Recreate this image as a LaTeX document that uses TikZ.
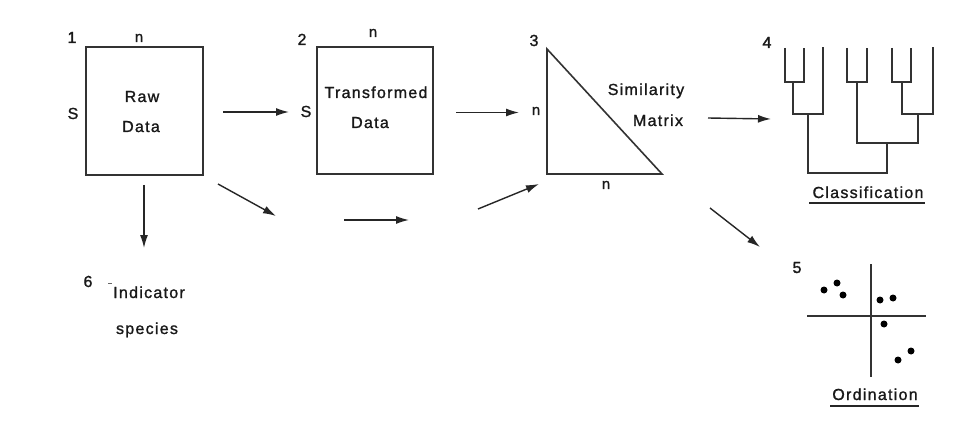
\documentclass[tikz,border=0pt]{standalone}
\usepackage{fontspec}
\setmainfont{Liberation Sans}[LetterSpace=8,FakeBold=1.2]
\newfontfamily\numfont{Liberation Sans}[FakeBold=2.5]
\usetikzlibrary{arrows.meta}
\begin{document}
\begin{tikzpicture}[x=1pt,y=-1pt,
  ln/.style={line width=1.6pt,draw=black!80},
  box/.style={ln,rectangle,inner sep=0pt},
  arr/.style={line width=1.4pt,draw=black!85,-{Latex[length=13pt,width=8pt]}},
  lbl/.style={inner sep=0pt,anchor=base,font=\fontsize{16}{18}\selectfont,text=black!90},
  num/.style={lbl,font=\fontsize{16}{18}\selectfont\numfont},
  dot/.style={circle,fill=black,inner sep=0pt,minimum size=7pt},
  uline/.style={line width=1.8pt,draw=black!85}]
\useasboundingbox (0,0) rectangle (970,425);
\fill[white] (0,0) rectangle (970,425);
% Box 1
\node[box,minimum width=117pt,minimum height=128pt] (raw) at (144.5,111) {};
\node[num] (n1) at (72,43) {1};
\node[lbl,font=\fontsize{15}{18}\selectfont] (n1n) at (139,42) {n};
\node[lbl] (n1s) at (73,119) {S};
\node[lbl] (rawt) at (142,102) {Raw};
\node[lbl] (rawd) at (141,132) {Data};
% Box 2
\node[box,minimum width=116pt,minimum height=127pt] (trans) at (375,110.5) {};
\node[lbl,font=\fontsize{16}{18}\selectfont] (n2) at (302,45) {2};
\node[lbl,font=\fontsize{15}{18}\selectfont] (n2n) at (373,37) {n};
\node[lbl] (n2s) at (306,117) {S};
\node[lbl] (trt) at (376,98) {Transformed};
\node[lbl] (trd) at (370,128) {Data};
% Triangle
\coordinate (t1) at (547,49);
\coordinate (t2) at (547,174);
\coordinate (t3) at (662,174);
\draw[ln,line join=miter] (t1) -- (t2) -- (t3) -- cycle;
\node[lbl,font=\fontsize{16}{18}\selectfont] (n3) at (534,46) {3};
\node[lbl,font=\fontsize{15}{18}\selectfont] (n3l) at (536,115) {n};
\node[lbl,font=\fontsize{15}{18}\selectfont] (n3b) at (606,189) {n};
\node[lbl] (sim) at (646,95) {Similarity};
\node[lbl] (mat) at (658,126) {Matrix};
% Dendrogram
\node[num] (n4) at (767,48) {4};
\coordinate (l1) at (785,48); \coordinate (l2) at (804,48); \coordinate (l3) at (823,47);
\coordinate (l4) at (847,48); \coordinate (l5) at (867,48);
\coordinate (l6) at (892,48); \coordinate (l7) at (911,48); \coordinate (l8) at (933,47);
\draw[ln] (l1) |- (793,82) -| (l2);
\draw[ln] (793,82) |- (808,114) -| (l3);
\draw[ln] (l4) |- (857,82) -| (l5);
\draw[ln] (l6) |- (902,82) -| (l7);
\draw[ln] (902,82) |- (918,114) -| (l8);
\draw[ln] (857,82) |- (887,143) -| (918,114);
\draw[ln] (808,114) |- (850,173) -| (887,143);
\node[lbl] (cls) at (868,198) {Classification};
\coordinate (cu1) at (809,203); \coordinate (cu2) at (925,203);
\draw[uline] (cu1) -- (cu2);
% Ordination
\node[lbl,font=\fontsize{16}{18}\selectfont] (n5) at (797,273) {5};
\coordinate (va) at (871,264); \coordinate (vb) at (871,377);
\coordinate (ha) at (807,316); \coordinate (hb) at (926,316);
\draw[ln] (va) -- (vb);
\draw[ln] (ha) -- (hb);
\node[dot] (d1) at (824,290) {};
\node[dot] (d2) at (837,283) {};
\node[dot] (d3) at (843,295) {};
\node[dot] (d4) at (880,300) {};
\node[dot] (d5) at (893,298) {};
\node[dot] (d6) at (884,324) {};
\node[dot] (d7) at (911,351) {};
\node[dot] (d8) at (898,360) {};
\node[lbl] (ord) at (875,400) {Ordination};
\coordinate (ou1) at (830,406); \coordinate (ou2) at (919,406);
\draw[uline] (ou1) -- (ou2);
% Indicator species
\node[lbl,font=\fontsize{16}{18}\selectfont] (n6) at (88,287) {6};
\coordinate (tk1) at (108,283); \coordinate (tk2) at (112,283);
\draw[line width=0.6pt,black!60] (tk1) -- (tk2);
\node[lbl] (ind) at (149,298) {Indicator};
\node[lbl] (spe) at (147,334) {species};
% Arrows
\coordinate (a1s) at (223,112); \coordinate (a1e) at (289,112);
\coordinate (a2s) at (456,112.5); \coordinate (a2e) at (519,112.5);
\coordinate (a3s) at (708,118); \coordinate (a3e) at (771,119);
\coordinate (a4s) at (710,208); \coordinate (a4e) at (760,247);
\coordinate (a5s) at (144,185); \coordinate (a5e) at (144,248);
\coordinate (a6s) at (218,184); \coordinate (a6e) at (276,216);
\coordinate (a7s) at (344,220); \coordinate (a7e) at (409,220);
\coordinate (a8s) at (478,209); \coordinate (a8e) at (539,184);
\draw[arr] (a1s) -- (a1e);
\draw[arr] (a2s) -- (a2e);
\draw[arr] (a3s) -- (a3e);
\draw[arr] (a4s) -- (a4e);
\draw[arr] (a5s) -- (a5e);
\draw[arr] (a6s) -- (a6e);
\draw[arr] (a7s) -- (a7e);
\draw[arr] (a8s) -- (a8e);
\end{tikzpicture}
\end{document}
